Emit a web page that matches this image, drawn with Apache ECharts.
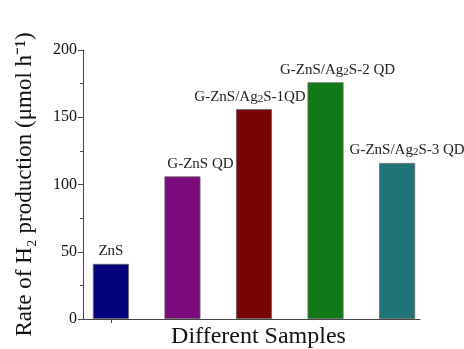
<!DOCTYPE html>
<html><head><meta charset="utf-8">
<script src="https://cdn.jsdelivr.net/npm/echarts@6/dist/echarts.min.js"></script>
<style>html,body{margin:0;padding:0;background:#fff}#c{width:464px;height:349px}</style>
</head><body><div id="c"></div>
<script>
// Data
const categories = ['ZnS', 'G-ZnS QD', 'G-ZnS/Ag{s|2}S-1QD', 'G-ZnS/Ag{s|2}S-2 QD', 'G-ZnS/Ag{s|2}S-3 QD'];
const positions = [1, 2, 3, 4, 5];
const values = [41, 106, 156, 176, 116];
const yTicks = [0, 50, 100, 150, 200];

// Style
const colors = ['#03037c', '#7b0a7d', '#7a0303', '#107a16', '#1f7478'];
const labelOffsets = [[0, 0], [18, 0], [-4, 0], [12, 0], [10, 0]];
const serif = '"Liberation Serif", "Times New Roman", serif';

const chart = echarts.init(document.getElementById('c'), null, {renderer: 'canvas'});
chart.setOption({
  animation: false,
  backgroundColor: '#fff',
  grid: {left: 83, right: 44, top: 50, bottom: 30, outerBoundsMode: 'none', containLabel: false},
  xAxis: {
    type: 'value', min: 0.61, max: 5.32,
    name: 'Different Samples', nameLocation: 'middle', nameGap: 6,
    nameTextStyle: {fontFamily: serif, fontSize: 24, color: '#111', padding: [0, 0, 0, 14]},
    axisLine: {show: true, lineStyle: {color: '#444', width: 1}},
    axisTick: {show: true, customValues: [1], length: 4, lineStyle: {color: '#444'}},
    axisLabel: {show: false},
    splitLine: {show: false}
  },
  yAxis: {
    type: 'value', min: 0, max: 200, interval: 50,
    name: 'Rate of H\u2082 production (\u03bcmol h\u207b\u00b9)', nameLocation: 'middle', nameGap: 47,
    nameTextStyle: {fontFamily: serif, fontSize: 23, color: '#111'},
    axisLine: {show: true, lineStyle: {color: '#444', width: 1}},
    axisTick: {show: true, length: 5, lineStyle: {color: '#444'}},
    minorTick: {show: true, splitNumber: 2, length: 3, lineStyle: {color: '#444'}},
    axisLabel: {fontFamily: serif, fontSize: 16, color: '#111', margin: 6,
      customValues: yTicks},
    splitLine: {show: false}
  },
  series: [{
    type: 'bar',
    barWidth: 36,
    data: values.map((v, i) => ({
      value: [positions[i], v],
      itemStyle: {color: colors[i], borderColor: '#666', borderWidth: 0.8},
      label: {
        show: true, position: 'top', distance: 5, offset: labelOffsets[i],
        formatter: categories[i],
        fontFamily: serif, fontSize: 15, color: '#222',
        rich: {s: {fontFamily: serif, fontSize: 11, color: '#222', verticalAlign: 'bottom', padding: [4, 0, 0, 0]}}
      }
    }))
  }]
});
</script></body></html>
